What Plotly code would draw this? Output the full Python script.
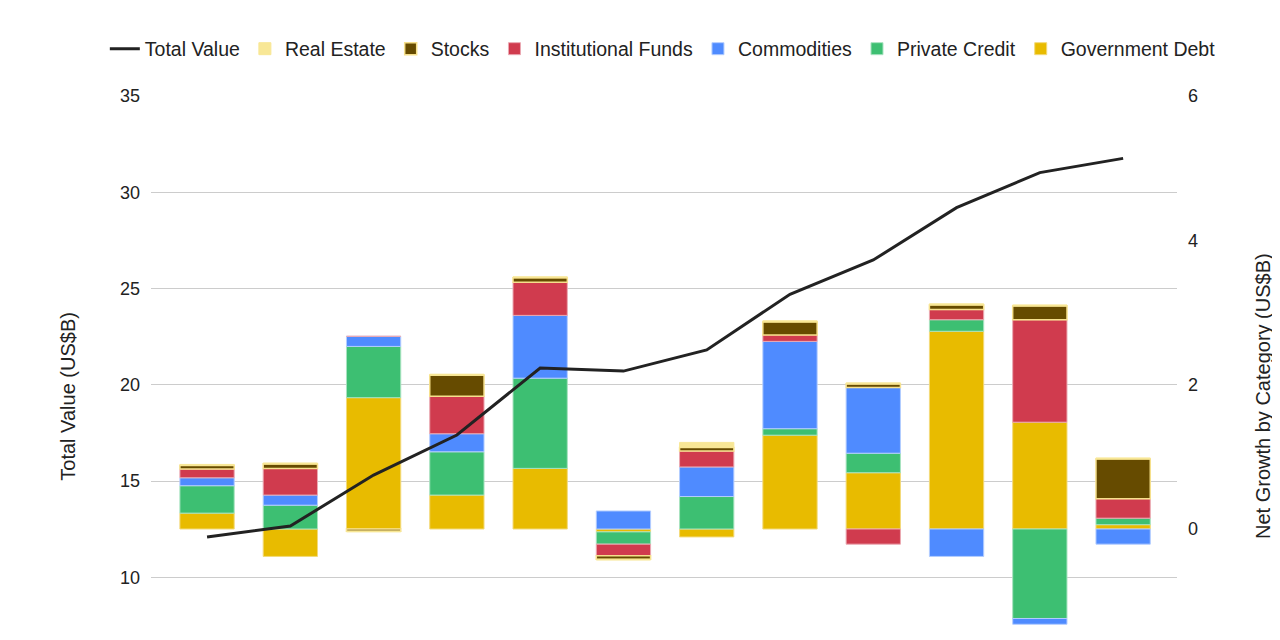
import plotly.graph_objects as go

# 12 periods, x labels sit below the visible area
periods = list(range(1, 13))

totalValue = [12.09, 12.66, 15.31, 17.39, 20.87, 20.71, 21.81, 24.70, 26.48, 29.20, 31.02, 31.76]

governmentDebt = [0.22, -0.38, 1.82, 0.47, 0.84, -0.04, -0.11, 1.30, 0.78, 2.74, 1.48, 0.06]
privateCredit = [0.38, 0.33, 0.71, 0.60, 1.25, -0.17, 0.45, 0.09, 0.27, 0.16, -1.24, 0.09]
commodities = [0.11, 0.14, 0.14, 0.25, 0.87, 0.25, 0.41, 1.21, 0.91, -0.38, -0.08, -0.21]
institutionalFunds = [0.12, 0.37, 0.0, 0.52, 0.46, -0.16, 0.22, 0.09, -0.21, 0.14, 1.42, 0.27]
stocks = [0.05, 0.06, -0.03, 0.29, 0.06, -0.05, 0.05, 0.18, 0.05, 0.065, 0.19, 0.55]
realEstate = [0.015, 0.015, -0.01, 0.015, 0.015, -0.01, 0.07, 0.015, 0.015, 0.015, 0.015, 0.015]

# bottom of the stack first
barSeries = [
    ('Government Debt', governmentDebt, '#e8bb00', '#f3da7a'),
    ('Private Credit', privateCredit, '#3dbf72', '#a8e3c0'),
    ('Commodities', commodities, '#4f8bff', '#b3cdff'),
    ('Institutional Funds', institutionalFunds, '#d03b4e', '#eba9b2'),
    ('Stocks', stocks, '#664b00', '#f6e08c'),
    ('Real Estate', realEstate, '#f8e796', '#f8e796'),
]

fig = go.Figure()
for name, vals, col, edge in barSeries:
    fig.add_trace(go.Bar(
        x=periods, y=vals, name=name,
        marker=dict(color=col, line=dict(color=edge, width=1.5 if name == 'Stocks' else 1)),
        yaxis='y'
    ))

# line goes on the overlaying axis so it is drawn above the bars
fig.add_trace(go.Scatter(
    x=periods, y=totalValue, name='Total Value', mode='lines',
    line=dict(color='#222222', width=3),
    yaxis='y2'
))

# the original plot runs past the bottom edge, so the axis titles sit lower than
# the middle of what is visible - placed by hand
axisTitleFont = dict(size=20, color='#222222')
fig.add_annotation(text='Total Value (US$B)', xref='paper', yref='paper',
                   x=-0.0812, y=0.4485, xanchor='center', yanchor='middle',
                   textangle=-90, showarrow=False, font=axisTitleFont)
fig.add_annotation(text='Net Growth by Category (US$B)', xref='paper', yref='paper',
                   x=1.0838, y=0.4485, xanchor='center', yanchor='middle',
                   textangle=-90, showarrow=False, font=axisTitleFont)

fig.update_layout(
    width=1272, height=632,
    margin=dict(l=143, r=103, t=88, b=0),
    barmode='relative',
    bargap=0.348,
    plot_bgcolor='white',
    paper_bgcolor='white',
    font=dict(family='Liberation Sans, Arial, sans-serif', size=18, color='#222222'),
    legend=dict(
        orientation='h', x=-0.045, xanchor='left', y=1.0864, yanchor='middle',
        traceorder='reversed', font=dict(size=19.5)
    ),
    xaxis=dict(
        range=[0.327, 12.647], showticklabels=False, showgrid=False,
        zeroline=False, showline=False
    ),
    yaxis=dict(
        side='right', range=[-1.538, 6.0], dtick=2, showgrid=False,
        zeroline=False, showline=False, ticklabelstandoff=10
    ),
    yaxis2=dict(
        overlaying='y', side='left', range=[6.74, 35], dtick=5,
        showgrid=True, gridcolor='#cccccc', gridwidth=1,
        zeroline=False, showline=False, ticklabelstandoff=10
    ),
)

fig.write_html("out.html")
